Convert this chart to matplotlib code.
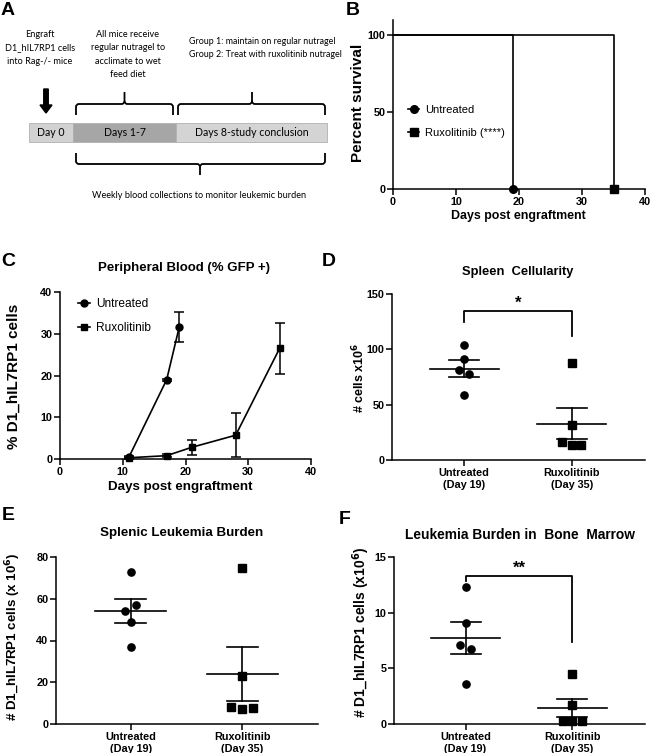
import numpy as np
import matplotlib
matplotlib.use("Agg")
import matplotlib.pyplot as plt
from matplotlib.patches import Rectangle, FancyArrow, PathPatch
from matplotlib.path import Path
from matplotlib.lines import Line2D

W, H = 650, 753

# Panel B: survival
surv_days = {"Untreated": [0, 19], "Ruxolitinib": [0, 35]}
surv_pct = {"Untreated": [100, 0], "Ruxolitinib": [100, 0]}

# Panel C: peripheral blood % GFP+
c_unt_days = [11, 17, 19]
c_unt_mean = [0.5, 19.0, 31.6]
c_unt_sem = [0.3, 0.2, 3.6]
c_rux_days = [11, 17, 21, 28, 35]
c_rux_mean = [0.3, 0.8, 2.8, 5.7, 26.5]
c_rux_sem = [0.2, 0.3, 1.8, 5.2, 6.1]

# Panels D-F: per-mouse values
groups = ["Untreated\n(Day 19)", "Ruxolitinib\n(Day 35)"]
d_unt = [104, 91, 81, 78, 59]
d_rux = [88, 32, 16, 14, 14]
e_unt = [73, 57, 54, 49, 37]
e_rux = [74.5, 23, 8, 7, 7.5]
f_unt = [12.3, 9.1, 7.1, 6.7, 3.6]
f_rux = [4.5, 1.7, 0.3, 0.3, 0.3]
jit_unt = {"D": [0, 0, -0.045, 0.045, 0], "E": [0, 0.05, -0.05, 0, 0], "F": [0, 0, -0.05, 0.05, 0]}
jit_rux = {"D": [0, 0, -0.09, 0, 0.09], "E": [0, 0, -0.1, 0, 0.1], "F": [0, 0, -0.09, 0, 0.09]}

SANS = "Liberation Sans"
plt.rcParams["font.family"] = SANS
plt.rcParams["axes.linewidth"] = 1.1

fig = plt.figure(figsize=(W / 100, H / 100), dpi=100)


def add_ax(left, top, right, bottom):
    return fig.add_axes([left / W, 1 - bottom / H, (right - left) / W, (bottom - top) / H])


def ftext(x, y, s, **kw):
    fig.text(x / W, 1 - y / H, s, **kw)


def prism(ax):
    ax.spines["top"].set_visible(False)
    ax.spines["right"].set_visible(False)
    ax.tick_params(direction="out", length=4, width=1.1, labelsize=7.8, pad=1.5)
    for lab in ax.get_xticklabels() + ax.get_yticklabels():
        lab.set_fontweight("bold")


# ---------------- Panel A: timeline diagram ----------------
axA = fig.add_axes([0, 1 - 250 / H, 330 / W, 250 / H])
axA.set_xlim(0, 330)
axA.set_ylim(250, 0)
axA.axis("off")
boxes = [(29, 73, "#d2d2d2", "Day 0"), (73, 176, "#a6a6a6", "Days 1-7"),
         (176, 327, "#d4d4d4", "Days 8-study conclusion")]
for x0, x1, col, lab in boxes:
    axA.add_patch(Rectangle((x0, 123), x1 - x0, 19, facecolor=col, edgecolor="#b0b0b0", lw=0.6))
    axA.text((x0 + x1) / 2, 133, lab, ha="center", va="center", fontsize=7.6, family="Lato")

axA.add_patch(FancyArrow(46, 89, 0, 24, width=4.5, head_width=12, head_length=8,
                         length_includes_head=True, color="black"))


def brace(x0, x1, yb, yh, ytip, xtip=None):
    # square brace with rounded corners and a centre tip
    xtip = (x0 + x1) / 2 if xtip is None else xtip
    r = 3
    s = 1 if ytip < yh else -1  # +1: tip upwards
    verts = [(x0, yb), (x0, yh + s * r), (x0, yh), (x0 + r, yh),
             (xtip - r, yh), (xtip, yh), (xtip, yh - s * r), (xtip, ytip)]
    codes = [Path.MOVETO, Path.LINETO, Path.CURVE3, Path.CURVE3,
             Path.LINETO, Path.CURVE3, Path.CURVE3, Path.LINETO]
    axA.add_patch(PathPatch(Path(verts, codes), fill=False, lw=1.3, ec="black"))
    verts = [(x1, yb), (x1, yh + s * r), (x1, yh), (x1 - r, yh),
             (xtip + r, yh), (xtip, yh), (xtip, yh - s * r)]
    codes = [Path.MOVETO, Path.LINETO, Path.CURVE3, Path.CURVE3,
             Path.LINETO, Path.CURVE3, Path.CURVE3]
    axA.add_patch(PathPatch(Path(verts, codes), fill=False, lw=1.3, ec="black"))


brace(76, 173, 115, 104, 92)
brace(178, 325, 115, 104, 92, 252)
brace(76, 325, 153, 164, 175, 200)

txt_kw = dict(ha="center", va="top", fontsize=6.6, family="Lato", linespacing=1.62)
axA.text(40, 30, "Engraft\nD1_hIL7RP1 cells\ninto Rag-/- mice", **txt_kw)
axA.text(128, 30, "All mice receive\nregular nutragel to\nacclimate to wet\nfeed diet", **txt_kw)
axA.text(189, 37, "Group 1: maintain on regular nutragel\nGroup 2: Treat with ruxolitinib nutragel",
         ha="left", va="top", fontsize=6.4, family="Lato", linespacing=1.62)
axA.text(199, 196, "Weekly blood collections to monitor leukemic burden",
         ha="center", va="center", fontsize=6.6, family="Lato")

# ---------------- Panel B: survival ----------------
axB = add_ax(393, 20, 645, 189)
for name, mk in [("Untreated", "o"), ("Ruxolitinib", "s")]:
    axB.step(surv_days[name], surv_pct[name], where="post", color="black", lw=1.2)
    axB.plot(surv_days[name][-1], surv_pct[name][-1], mk, color="black", ms=5.5, clip_on=False, zorder=5)
axB.set_xlim(0, 40)
axB.set_ylim(0, 110)
axB.set_xticks([0, 10, 20, 30, 40])
axB.set_yticks([0, 50, 100])
prism(axB)
hB = [Line2D([], [], color="black", marker="o", ms=5.5, lw=1.2),
      Line2D([], [], color="black", marker="s", ms=5.5, lw=1.2)]
axB.legend(hB, ["Untreated", "Ruxolitinib (****)"], loc="center left", bbox_to_anchor=(0.02, 0.40),
           frameon=False, fontsize=8.0, handlelength=1.0, handletextpad=0.5, labelspacing=1.15)
ftext(518, 216, "Days post engraftment", ha="center", va="center", fontsize=8.9, fontweight="bold")
ftext(358, 103, "Percent survival", ha="center", va="center", rotation=90, fontsize=11, fontweight="bold")

# ---------------- Panel C: peripheral blood ----------------
axC = add_ax(60, 292, 311, 459)
axC.errorbar(c_unt_days, c_unt_mean, yerr=c_unt_sem, fmt="-o", color="black", ms=5, lw=1.2,
             elinewidth=1.1, capsize=3.5, capthick=1.1, label="Untreated", clip_on=False)
axC.errorbar(c_rux_days, c_rux_mean, yerr=c_rux_sem, fmt="-s", color="black", ms=5, lw=1.2,
             elinewidth=1.1, capsize=3.5, capthick=1.1, label="Ruxolitinib", clip_on=False)
axC.set_xlim(0, 40)
axC.set_ylim(0, 40)
axC.set_xticks([0, 10, 20, 30, 40])
axC.set_yticks([0, 10, 20, 30, 40])
prism(axC)
hC = [Line2D([], [], color="black", marker="o", ms=5, lw=1.2),
      Line2D([], [], color="black", marker="s", ms=5, lw=1.2)]
axC.legend(hC, ["Untreated", "Ruxolitinib"], loc="upper left", bbox_to_anchor=(0.03, 1.03),
           frameon=False, fontsize=8.6, handlelength=1.0, handletextpad=0.5, labelspacing=1.0)
ftext(184, 268, "Peripheral Blood (% GFP +)", ha="center", va="center", fontsize=9.5, fontweight="bold")
ftext(180, 487, "Days post engraftment", ha="center", va="center", fontsize=9.6, fontweight="bold")
ftext(14, 376, "% D1_hIL7RP1 cells", ha="center", va="center", rotation=90, fontsize=11, fontweight="bold")


# ---------------- Panels D-F: dot plots ----------------
def dot_panel(ax, unt, rux, key, ylim, yticks):
    for i, (vals, mk, jit) in enumerate([(unt, "o", jit_unt[key]), (rux, "s", jit_rux[key])]):
        v = np.array(vals, dtype=float)
        m = v.mean()
        sem = v.std(ddof=1) / np.sqrt(len(v))
        ax.plot(i + np.array(jit), v, mk, color="black", ms=5.2 if mk == "o" else 5.4,
                clip_on=False, zorder=3)
        ax.plot([i - 0.32, i + 0.32], [m, m], color="black", lw=1.2)
        ax.plot([i, i], [m - sem, m + sem], color="black", lw=1.2)
        for y in (m - sem, m + sem):
            ax.plot([i - 0.14, i + 0.14], [y, y], color="black", lw=1.2)
    ax.set_xlim(-0.67, 1.68)
    ax.set_ylim(*ylim)
    ax.set_yticks(yticks)
    ax.set_xticks([0, 1])
    ax.set_xticklabels(groups)
    prism(ax)
    ax.tick_params(axis="x", labelsize=7.8, pad=2)


def sig_bar(ax, y_top, y_left, y_right, stars):
    ax.plot([0, 0, 1, 1], [y_left, y_top, y_top, y_right], color="black", lw=1.3, clip_on=False)
    ax.text(0.5, y_top, stars, ha="center", va="bottom", fontsize=12, fontweight="bold")


axD = add_ax(392, 294, 645, 460)
dot_panel(axD, d_unt, d_rux, "D", (0, 150), [0, 50, 100, 150])
sig_bar(axD, 135, 125, 112, "*")
ftext(518, 272, "Spleen  Cellularity", ha="center", va="center", fontsize=9.3, fontweight="bold")
ftext(359, 378, r"# cells x10$^{\mathbf{6}}$", ha="center", va="center", rotation=90,
      fontsize=9, fontweight="bold")

axE = add_ax(56, 557, 318, 724)
dot_panel(axE, e_unt, e_rux, "E", (0, 80), [0, 20, 40, 60, 80])
ftext(182, 533, "Splenic Leukemia Burden", ha="center", va="center", fontsize=9.6, fontweight="bold")
ftext(13, 637, r"# D1_hIL7RP1 cells (x 10$^{\mathbf{6}}$)", ha="center", va="center", rotation=90,
      fontsize=9.6, fontweight="bold")

axF = add_ax(394, 557, 645, 724)
dot_panel(axF, f_unt, f_rux, "F", (0, 15), [0, 5, 10, 15])
sig_bar(axF, 13.3, 12.8, 7.4, "**")
ftext(520, 535, "Leukemia Burden in  Bone  Marrow", ha="center", va="center", fontsize=9.9, fontweight="bold")
ftext(361, 632, r"# D1_hIL7RP1 cells (x10$^{\mathbf{6}}$)", ha="center", va="center", rotation=90,
      fontsize=10, fontweight="bold")

# panel letters
for lab, x, y in [("A", 1, 2), ("B", 346, 2), ("C", 1, 253), ("D", 322, 253), ("E", 2, 507), ("F", 339, 511)]:
    ftext(x, y, lab, ha="left", va="top", fontsize=14, fontweight="bold")

fig.savefig("out.png", dpi=100)
